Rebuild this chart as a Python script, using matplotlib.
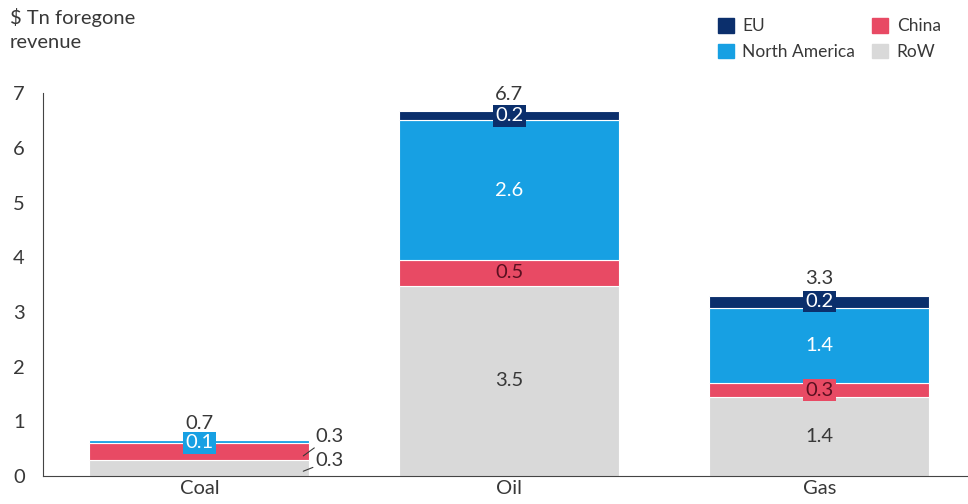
import matplotlib.pyplot as plt
import numpy as np
from matplotlib.patches import Patch

plt.rcParams['font.family'] = ['Lato', 'DejaVu Sans']

# data
fuels = ['Coal', 'Oil', 'Gas']
row = [0.29, 3.48, 1.44]
china = [0.31, 0.47, 0.26]
north_america = [0.06, 2.56, 1.38]
eu = [0.0, 0.16, 0.22]

c_eu = '#0b2f6c'
c_na = '#17a0e3'
c_china = '#e84a64'
c_row = '#d9d9d9'
txt = '#383838'

fig = plt.figure(figsize=(9.68, 5.04), dpi=100)
ax = fig.add_axes([0.0444, 0.0556, 0.9556, 0.7594])

x = np.arange(len(fuels))
w = 0.71
series = [(row, c_row), (china, c_china), (north_america, c_na), (eu, c_eu)]
bottom = np.zeros(len(fuels))
for vals, col in series:
    ax.bar(x, vals, w, bottom=bottom, color=col, edgecolor='white', linewidth=0.8)
    bottom += np.array(vals)
totals = bottom

def box(fc):
    return dict(boxstyle='square,pad=0.12', fc=fc, ec='none')

fs = 14.5
# Oil and gas segment labels
for i in [1, 2]:
    b = 0
    ax.text(x[i], b + row[i] / 2, f'{row[i]:.1f}', ha='center', va='center', fontsize=fs, color=txt)
    b += row[i]
    ax.text(x[i], b + china[i] / 2, f'{china[i]:.1f}', ha='center', va='center', fontsize=fs,
            color='#5a1020', bbox=box(c_china) if i == 2 else None)
    b += china[i]
    ax.text(x[i], b + north_america[i] / 2, f'{north_america[i]:.1f}', ha='center', va='center',
            fontsize=fs, color='white')
    b += north_america[i]
    ax.text(x[i], b + eu[i] / 2, f'{eu[i]:.1f}', ha='center', va='center', fontsize=fs,
            color='white', bbox=box(c_eu))

# coal labels
ax.text(x[0], row[0] + china[0] + north_america[0] / 2 - 0.02, f'{north_america[0]:.1f}',
        ha='center', va='center', fontsize=fs, color='white', bbox=box(c_na))
right = x[0] + w / 2
ax.annotate(f'{china[0]:.1f}', xy=(right - 0.02, row[0] + china[0] * 0.25),
            xytext=(right + 0.02, row[0] + china[0] + 0.12), fontsize=fs, color=txt,
            ha='left', va='center',
            arrowprops=dict(arrowstyle='-', color=txt, lw=0.8, shrinkA=0, shrinkB=0))
ax.annotate(f'{row[0]:.1f}', xy=(right - 0.02, row[0] * 0.3),
            xytext=(right + 0.02, row[0] - 0.01), fontsize=fs, color=txt,
            ha='left', va='center',
            arrowprops=dict(arrowstyle='-', color=txt, lw=0.8, shrinkA=0, shrinkB=0))

# totals
for i in range(len(fuels)):
    ax.text(x[i], totals[i] + 0.15, f'{totals[i]:.1f}', ha='center', va='bottom',
            fontsize=fs, color=txt)

ax.set_xlim(-0.505, 2.48)
ax.set_ylim(0, 7)
ax.set_yticks(range(0, 8))
ax.set_xticks(x)
ax.set_xticklabels(fuels)
ax.tick_params(axis='both', length=0, labelsize=fs, colors=txt)
ax.tick_params(axis='y', pad=13)
ax.tick_params(axis='x', pad=3)
for s in ['top', 'right']:
    ax.spines[s].set_visible(False)
ax.spines['left'].set_color('#444444')
ax.spines['bottom'].set_color('#444444')
ax.spines['left'].set_linewidth(0.8)
ax.spines['bottom'].set_linewidth(0.8)

fig.text(0.010, 0.985, '\\$ Tn foregone\nrevenue', ha='left', va='top', fontsize=fs,
         color=txt, linespacing=1.5)

handles = [Patch(color=c_eu, label='EU'), Patch(color=c_na, label='North America'),
           Patch(color=c_china, label='China'), Patch(color=c_row, label='RoW')]
fig.legend(handles=handles, ncol=2, loc='upper right', bbox_to_anchor=(0.988, 0.995),
           frameon=False, fontsize=12.5, handlelength=0.9, handleheight=0.9,
           handletextpad=0.5, columnspacing=1.0, labelspacing=0.55, labelcolor=txt)

fig.savefig('out.png', dpi=100)
